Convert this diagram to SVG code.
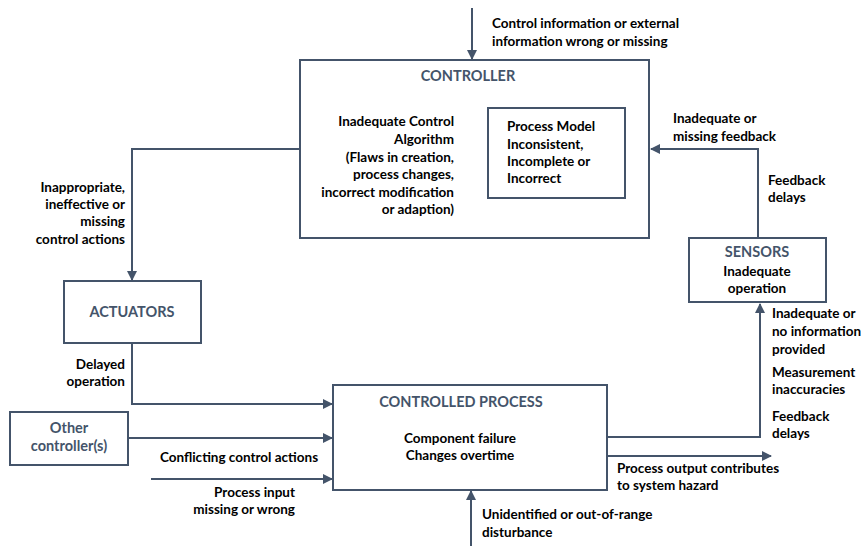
<svg xmlns="http://www.w3.org/2000/svg" width="862" height="546" viewBox="0 0 862 546">
<style>
.box{fill:#fff;stroke:#44546A;stroke-width:2}
.ln{fill:none;stroke:#44546A;stroke-width:2}
text{font-family:Lato,"Liberation Sans",sans-serif;font-weight:bold;font-size:13.5px;fill:#000}
.t{fill:#44546A;font-size:14.5px}
.r{text-anchor:end}
.c{text-anchor:middle}
</style>
<defs>
<marker id="ah" markerWidth="10" markerHeight="10" refX="9" refY="5" orient="auto" markerUnits="userSpaceOnUse">
<path d="M0,0 L10,5 L0,10 z" fill="#44546A"/>
</marker>
</defs>
<rect width="862" height="546" fill="#fff"/>
<g id="connectors">
<path class="ln" d="M472,8 V59" marker-end="url(#ah)"/>
<path class="ln" d="M300,149 H132 V280" marker-end="url(#ah)"/>
<path class="ln" d="M758,238 V149 H651" marker-end="url(#ah)"/>
<path class="ln" d="M132,343 V404 H332" marker-end="url(#ah)"/>
<path class="ln" d="M128,438 H332" marker-end="url(#ah)"/>
<path class="ln" d="M151,479 H332" marker-end="url(#ah)"/>
<path class="ln" d="M607,437 H760 V304" marker-end="url(#ah)"/>
<path class="ln" d="M607,456 H771" marker-end="url(#ah)"/>
<path class="ln" d="M471,546 V491" marker-end="url(#ah)"/>
</g>
<g id="controller">
<rect class="box" x="300" y="60" width="349" height="178"/>
<text class="t c" x="468" y="81">CONTROLLER</text>
<text class="r" x="454" y="126">Inadequate Control</text>
<text class="r" x="454" y="144">Algorithm</text>
<text class="r" x="454" y="162">(Flaws in creation,</text>
<text class="r" x="454" y="179">process changes,</text>
<text class="r" x="454" y="197">incorrect modification</text>
<text class="r" x="454" y="214">or adaption)</text>
</g>
<g id="process-model">
<rect class="box" x="488" y="108" width="137" height="90"/>
<text x="507" y="131">Process Model</text>
<text x="507" y="149">Inconsistent,</text>
<text x="507" y="166">Incomplete or</text>
<text x="507" y="183">Incorrect</text>
</g>
<g id="actuators">
<rect class="box" x="64" y="281" width="137" height="62"/>
<text class="t c" x="132" y="317">ACTUATORS</text>
</g>
<g id="sensors">
<rect class="box" x="689" y="238" width="137" height="64"/>
<text class="t c" x="757" y="257">SENSORS</text>
<text class="c" x="757" y="276">Inadequate</text>
<text class="c" x="757" y="293">operation</text>
</g>
<g id="controlled-process">
<rect class="box" x="333" y="385" width="274" height="105"/>
<text class="t c" x="461" y="407">CONTROLLED PROCESS</text>
<text class="c" x="460" y="443">Component failure</text>
<text class="c" x="460" y="460">Changes overtime</text>
</g>
<g id="other-controllers">
<rect class="box" x="10" y="412" width="118" height="53"/>
<text class="t c" x="69" y="433">Other</text>
<text class="t c" x="69" y="451">controller(s)</text>
</g>
<g id="labels">
<text x="492" y="28">Control information or external</text>
<text x="492" y="46">information wrong or missing</text>
<text x="673" y="123">Inadequate or</text>
<text x="673" y="141">missing feedback</text>
<text x="768" y="185">Feedback</text>
<text x="768" y="202">delays</text>
<text class="r" x="125" y="192">Inappropriate,</text>
<text class="r" x="125" y="209">ineffective or</text>
<text class="r" x="125" y="226">missing</text>
<text class="r" x="125" y="244">control actions</text>
<text class="r" x="125" y="369">Delayed</text>
<text class="r" x="125" y="386">operation</text>
<text x="772" y="318">Inadequate or</text>
<text x="772" y="336">no information</text>
<text x="772" y="354">provided</text>
<text x="772" y="377">Measurement</text>
<text x="772" y="394">inaccuracies</text>
<text x="772" y="421">Feedback</text>
<text x="772" y="438">delays</text>
<text class="c" x="239" y="462">Conflicting control actions</text>
<text class="r" x="295" y="497">Process input</text>
<text class="r" x="295" y="514">missing or wrong</text>
<text x="617" y="473">Process output contributes</text>
<text x="617" y="490">to system hazard</text>
<text x="482" y="519">Unidentified or out-of-range</text>
<text x="482" y="537">disturbance</text>
</g>
</svg>
